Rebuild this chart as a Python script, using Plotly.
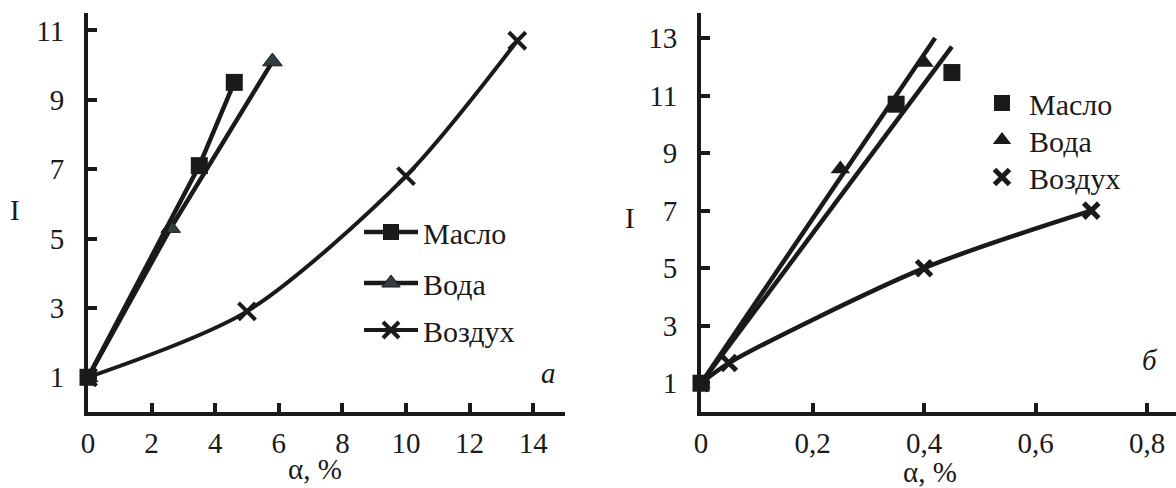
import plotly.graph_objects as go

# ---------------- data ----------------
names = ["Масло", "Вода", "Воздух"]

# panel a
a_oil_x = [0, 3.5, 4.6]
a_oil_y = [1, 7.1, 9.5]
a_water_x = [0, 2.6, 5.8]
a_water_y = [1, 5.3, 10.1]
a_air_x = [0, 5, 10, 13.5]
a_air_y = [1, 2.9, 6.8, 10.7]

# panel б
b_oil_x = [0, 0.35, 0.45]
b_oil_y = [1, 10.7, 11.8]
b_water_x = [0, 0.25, 0.4]
b_water_y = [1, 8.45, 12.15]
b_air_x = [0, 0.05, 0.4, 0.7]
b_air_y = [1, 1.7, 5.0, 7.0]
b_oil_trend_x = [0, 0.45]
b_oil_trend_y = [1, 12.7]
b_water_trend_x = [0, 0.42]
b_water_trend_y = [1, 13.0]

a_xticks = [0, 2, 4, 6, 8, 10, 12, 14]
a_yticks = [1, 3, 5, 7, 9, 11]
b_xticks = [0, 0.2, 0.4, 0.6, 0.8]
b_xticklabels = ["0", "0,2", "0,4", "0,6", "0,8"]
b_yticks = [1, 3, 5, 7, 9, 11, 13]

# ---------------- style ----------------
W, H = 1176, 488
INK = "#1a1a1a"
WATER_A = "#333d42"
FONT = "Liberation Serif, Times New Roman, DejaVu Serif, serif"


def px(x):
    return x / W


def py(y):
    return 1 - y / H


fig = go.Figure()

# panel a traces (oil last so its square sits on top at the origin point)
fig.add_trace(go.Scatter(
    x=a_air_x, y=a_air_y, name=names[2], mode="lines+markers",
    line=dict(color=INK, width=4, shape="spline", smoothing=0.8),
    marker=dict(symbol="x-thin", size=17, color=INK,
                line=dict(color=INK, width=4)),
    xaxis="x", yaxis="y", legend="legend3"))
fig.add_trace(go.Scatter(
    x=a_water_x, y=a_water_y, name=names[1], mode="lines+markers",
    line=dict(color=INK, width=4.5),
    marker=dict(symbol="triangle-up", size=17, color=WATER_A,
                line=dict(color=INK, width=1)),
    xaxis="x", yaxis="y", legend="legend2"))
fig.add_trace(go.Scatter(
    x=a_oil_x, y=a_oil_y, name=names[0], mode="lines+markers",
    line=dict(color=INK, width=4.5),
    marker=dict(symbol="square", size=17, color=INK),
    cliponaxis=False,
    xaxis="x", yaxis="y", legend="legend"))

# panel б traces
fig.add_trace(go.Scatter(
    x=b_oil_trend_x, y=b_oil_trend_y, mode="lines", showlegend=False,
    line=dict(color=INK, width=4.5), hoverinfo="skip",
    xaxis="x2", yaxis="y2"))
fig.add_trace(go.Scatter(
    x=b_water_trend_x, y=b_water_trend_y, mode="lines", showlegend=False,
    line=dict(color=INK, width=4.5), hoverinfo="skip",
    xaxis="x2", yaxis="y2"))
fig.add_trace(go.Scatter(
    x=b_air_x, y=b_air_y, mode="lines", showlegend=False,
    line=dict(color=INK, width=4.5, shape="spline", smoothing=0.8),
    hoverinfo="skip", xaxis="x2", yaxis="y2"))
fig.add_trace(go.Scatter(
    x=b_air_x, y=b_air_y, name=names[2], mode="markers",
    marker=dict(symbol="x-thin", size=15, color=INK,
                line=dict(color=INK, width=5)),
    xaxis="x2", yaxis="y2", legend="legend6"))
fig.add_trace(go.Scatter(
    x=b_water_x, y=b_water_y, name=names[1], mode="markers",
    marker=dict(symbol="triangle-up", size=17, color=INK),
    xaxis="x2", yaxis="y2", legend="legend5"))
fig.add_trace(go.Scatter(
    x=b_oil_x, y=b_oil_y, name=names[0], mode="markers",
    marker=dict(symbol="square", size=17, color=INK),
    cliponaxis=False,
    xaxis="x2", yaxis="y2", legend="legend4"))

axis_common = dict(
    showline=True, linecolor=INK, linewidth=4,
    ticks="inside", ticklen=9, tickwidth=4, tickcolor=INK,
    showgrid=False, zeroline=False, automargin=False,
    tickfont=dict(family=FONT, size=29, color=INK),
)

ydom = [py(412), py(13)]

legend_a = dict(
    font=dict(family=FONT, size=30, color=INK),
    bgcolor="rgba(0,0,0,0)", borderwidth=0,
    xanchor="left", yanchor="middle", itemwidth=54,
)
legend_b = dict(legend_a, itemwidth=44)

fig.update_layout(
    width=W, height=H,
    margin=dict(l=0, r=0, t=0, b=0, pad=0),
    paper_bgcolor="white", plot_bgcolor="white",
    font=dict(family=FONT, size=28, color=INK),
    xaxis=dict(domain=[px(88), px(565)], range=[0, 15],
               tickvals=a_xticks, anchor="y", ticklabelstandoff=2,
               **axis_common),
    yaxis=dict(domain=ydom, range=[0, 11.5], tickvals=a_yticks,
               anchor="x", ticklabelstandoff=14, **axis_common),
    xaxis2=dict(domain=[px(701), 1.0], range=[0, 0.852],
                tickvals=b_xticks, ticktext=b_xticklabels,
                anchor="y2", ticklabelstandoff=2, **axis_common),
    yaxis2=dict(domain=ydom, range=[0, 13.87], tickvals=b_yticks,
                anchor="x2", ticklabelstandoff=14, **axis_common),
    legend=dict(x=px(359), y=py(232), **legend_a),
    legend2=dict(x=px(359), y=py(283), **legend_a),
    legend3=dict(x=px(359), y=py(330), **legend_a),
    legend4=dict(x=px(975), y=py(103), **legend_b),
    legend5=dict(x=px(975), y=py(140), **legend_b),
    legend6=dict(x=px(975), y=py(177), **legend_b),
    showlegend=True,
)

ann_font = dict(family=FONT, size=29, color=INK)


def label(text, x, y):
    return dict(text=text, x=px(x), y=py(y), xref="paper", yref="paper",
                xanchor="center", yanchor="middle", showarrow=False,
                font=ann_font)


annotations = [
    label("I", 15, 210),
    label("I", 630, 218),
    label("α, %", 315, 469),
    label("α, %", 930, 472),
    label("<i>а</i>", 548, 373),
    label("<i>б</i>", 1150, 360),
]
fig.update_layout(annotations=annotations)

fig.write_html(
    "out.html",
    config={"displayModeBar": False},
    post_script="document.body.style.margin='0px';"
                "document.body.style.overflow='hidden';",
)
